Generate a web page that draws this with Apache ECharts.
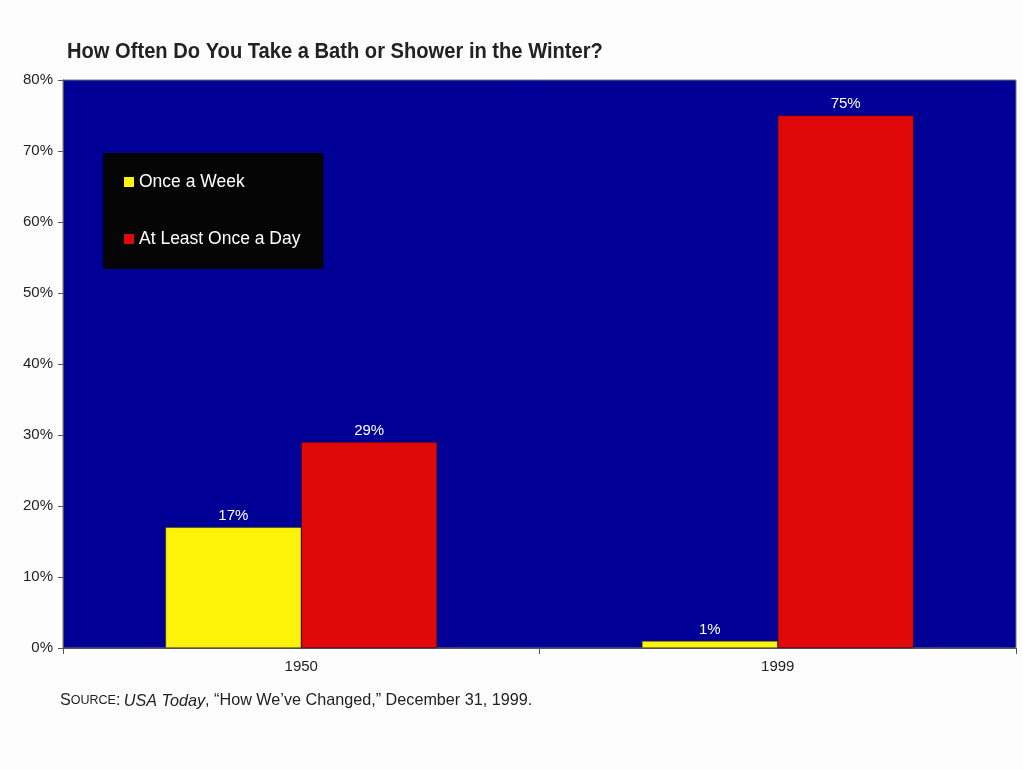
<!DOCTYPE html>
<html><head><meta charset="utf-8">
<script src="https://cdn.jsdelivr.net/npm/echarts@6/dist/echarts.min.js"></script>
<style>html,body{margin:0;padding:0;background:#fdfdfd}#c{width:1023px;height:769px}</style>
</head><body><div id="c"></div>
<script>
const categories = ['1950', '1999'];
const onceAWeek = [17, 1];
const atLeastOnceADay = [29, 75];
const yTicks = { min: 0, max: 80, interval: 10 };
const titleText = 'How Often Do You Take a Bath or Shower in the Winter?';

const FONT = 'Liberation Sans, Arial, sans-serif';
const chart = echarts.init(document.getElementById('c'));
const labelStyle = { show: true, position: 'top', distance: 4, color: '#ffffff', fontSize: 15, fontFamily: FONT, formatter: '{c}%' };
chart.setOption({
  backgroundColor: '#fdfdfd',
  animation: false,
  grid: { left: 63, right: 7, top: 80, bottom: 121, show: true, backgroundColor: '#000096', borderColor: '#777777', borderWidth: 1 },
  legend: {
    orient: 'vertical', left: 103, top: 153,
    backgroundColor: '#050505',
    padding: [20, 23, 21, 21],
    itemGap: 39, itemWidth: 10, itemHeight: 10, icon: 'rect',
    itemStyle: { borderWidth: 0 },
    textStyle: { color: '#ffffff', fontSize: 17.5, fontFamily: FONT },
    data: ['Once a Week', 'At Least Once a Day']
  },
  xAxis: {
    type: 'category', data: categories,
    axisLine: { lineStyle: { color: '#555555', width: 1 } },
    axisTick: { show: true, length: 6, lineStyle: { color: '#555555' } },
    axisLabel: { color: '#222222', fontSize: 15, margin: 11, fontFamily: FONT }
  },
  yAxis: {
    type: 'value', min: yTicks.min, max: yTicks.max, interval: yTicks.interval,
    axisLine: { show: true, lineStyle: { color: '#555555' } },
    axisTick: { show: true, length: 5, lineStyle: { color: '#555555' } },
    splitLine: { show: false },
    axisLabel: { formatter: '{value}%', color: '#222222', fontSize: 15, margin: 10, fontFamily: FONT }
  },
  series: [
    { name: 'Once a Week', type: 'bar', data: onceAWeek, barGap: '0%', barCategoryGap: '43%',
      itemStyle: { color: '#fdf20a', borderColor: '#333300', borderWidth: 0.5 }, label: labelStyle },
    { name: 'At Least Once a Day', type: 'bar', data: atLeastOnceADay,
      itemStyle: { color: '#e00808', borderColor: '#330000', borderWidth: 0.5 }, label: labelStyle }
  ],
  graphic: [{
    type: 'text', x: 67, y: 41, scaleX: 0.915,
    style: { text: titleText, fontFamily: FONT, fontWeight: 'bold', fontSize: 22, fill: '#222222' }
  }, {
    type: 'text', left: 60, top: 693,
    style: {
      text: '{sc|S}{scs|OURCE}{sc|:} {i|USA Today}{n|, \u201cHow We\u2019ve Changed,\u201d December 31, 1999.}',
      rich: {
        sc: { fontSize: 16.2, fontFamily: FONT, fill: '#222222' },
        scs: { fontSize: 12.5, fontFamily: FONT, fill: '#222222' },
        i: { fontSize: 16.2, fontStyle: 'italic', fontFamily: FONT, fill: '#222222' },
        n: { fontSize: 16.2, fontFamily: FONT, fill: '#222222' }
      }
    }
  }]
});
</script></body></html>
